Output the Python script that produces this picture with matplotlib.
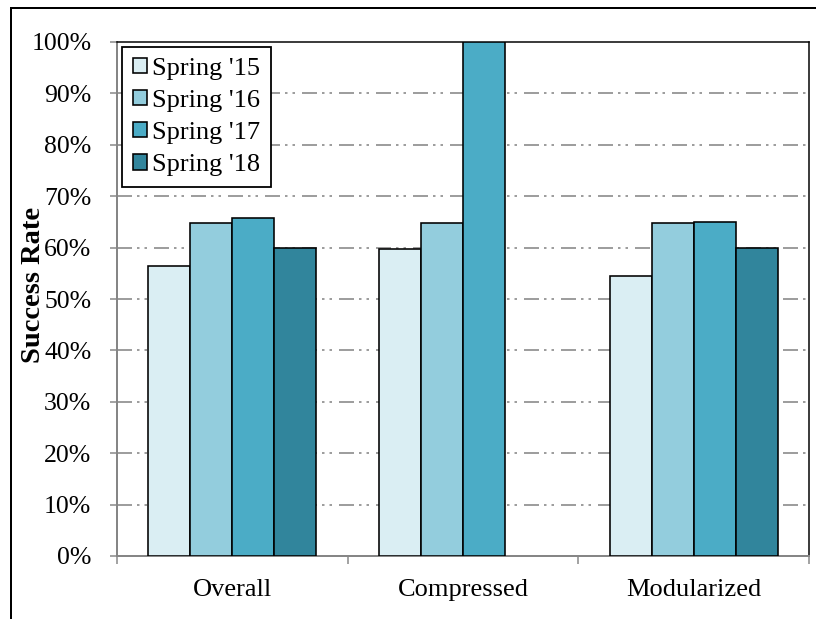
import matplotlib
matplotlib.use("Agg")
import matplotlib.pyplot as plt
import numpy as np
from matplotlib.lines import Line2D

plt.rcParams['font.family'] = ['Liberation Serif', 'DejaVu Serif']
plt.rcParams['lines.scale_dashes'] = False

categories = ["Overall", "Compressed", "Modularized"]
series_names = ["Spring '15", "Spring '16", "Spring '17", "Spring '18"]
spring15 = [56.5, 59.8, 54.5]
spring16 = [64.7, 64.8, 64.7]
spring17 = [65.8, 100.0, 65.0]
spring18 = [60.0, np.nan, 60.0]
series_values = [spring15, spring16, spring17, spring18]
colors = ["#DAEEF3", "#93CDDD", "#4BACC6", "#31859C"]
yticks = [0, 10, 20, 30, 40, 50, 60, 70, 80, 90, 100]
ytick_labels = [f"{v}%" for v in yticks]

DPI = 100
fig = plt.figure(figsize=(8.16, 6.19), dpi=DPI)
ax = fig.add_axes([117/816, 63/619, (809-117)/816, (556-42)/619])

px = 72.0 / DPI
x = np.arange(len(categories))
w = 42/231
for i, (vals, c, name) in enumerate(zip(series_values, colors, series_names)):
    ax.bar(x + (i - 1.5) * w, vals, width=w, color=c, edgecolor='black',
           linewidth=1.6*px, label=name, zorder=3)

ax.set_xlim(-0.5, len(categories) - 0.5)
ax.set_ylim(0, 100)

grid_gray = '#868686'
for v in yticks[1:-1]:
    ax.axhline(v, color=grid_gray, linewidth=1.6*px,
               linestyle=(0, (15*px, 5*px, 2.5*px, 5*px, 2.5*px, 7*px)), zorder=1)

ax.set_yticks(yticks)
ax.set_yticklabels(ytick_labels, fontsize=18.5)
ax.set_xticks(x)
ax.set_xticklabels(categories, fontsize=19)
ax.tick_params(axis='x', length=0, pad=16.5)
ax.tick_params(axis='y', length=5, width=1.5*px, color=grid_gray, direction='out', pad=13.5)
# x boundary ticks
ax.set_xticks(np.arange(-0.5, len(categories), 1.0), minor=True)
ax.tick_params(axis='x', which='minor', length=6, width=1.5*px, color=grid_gray, direction='out')

for s in ['left', 'bottom']:
    ax.spines[s].set_color(grid_gray)
    ax.spines[s].set_linewidth(2*px)
for s in ['top', 'right']:
    ax.spines[s].set_color('black')
    ax.spines[s].set_linewidth(1.5*px)

ax.set_ylabel("Success Rate", fontsize=20.5, fontweight='bold')
ax.yaxis.set_label_coords(-0.103, 0.528)

leg = ax.legend(loc='upper left', bbox_to_anchor=(5/692, 1 - 5/514), fontsize=19,
                frameon=True, fancybox=False, edgecolor='black', framealpha=1,
                handlelength=0.53, handleheight=0.53, handletextpad=0.2,
                borderpad=0.4, labelspacing=0.38, borderaxespad=0)
leg.get_frame().set_linewidth(1.8*px)
leg.set_zorder(5)

# outer frame (left and top edges visible)
fig.add_artist(Line2D([11/816, 11/816], [0, 1 - 8/619], transform=fig.transFigure,
                      color='black', linewidth=2*px))
fig.add_artist(Line2D([11/816, 1], [1 - 8/619, 1 - 8/619], transform=fig.transFigure,
                      color='black', linewidth=2*px))

fig.savefig("out.png", dpi=DPI)
